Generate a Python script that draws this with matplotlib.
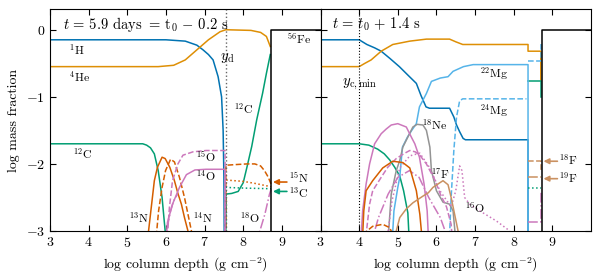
import numpy as np
import matplotlib
matplotlib.use("Agg")
from matplotlib import pyplot as plt

plt.rcParams.update({
    "font.family": "serif",
    "font.serif": ["cmr10"],
    "mathtext.fontset": "cm",
    "axes.formatter.use_mathtext": True,
    "font.size": 10,
})

# palette (seaborn colorblind)
BLUE, ORANGE, GREEN, RED = "#0173b2", "#de8f05", "#029e73", "#d55e00"
PINK, BROWN, GRAY, LBLUE = "#cc78bc", "#ca9161", "#949494", "#56b4e9"

# ---------------- left panel: t0 - 0.2 s ----------------
h1_x = [3, 6.0, 6.5, 6.8, 6.96, 7.1, 7.22, 7.35, 7.44, 7.48, 7.5, 7.51]
h1_y = [-0.15, -0.15, -0.17, -0.23, -0.3, -0.37, -0.45, -0.7, -1.0, -1.5, -2.2, -3.2]
he4_x = [3, 5.8, 6.2, 6.5, 6.8, 7.1, 7.4, 7.55, 8.2, 8.45, 8.6, 8.7]
he4_y = [-0.55, -0.55, -0.53, -0.45, -0.3, -0.15, -0.03, 0.0, -0.01, -0.04, -0.1, -0.25]
c12_x = [3, 5.4, 5.5, 5.6, 5.7, 5.8, 5.9, 5.98, 6.0]
c12_y = [-1.7, -1.7, -1.72, -1.76, -1.85, -2.1, -2.5, -3.0, -3.2]
c12_ash_x = [7.55, 7.55, 7.7, 7.87, 8.0, 8.1, 8.22, 8.35, 8.5, 8.6, 8.7]
c12_ash_y = [-3.2, -2.45, -2.44, -2.41, -2.28, -2.04, -1.74, -1.34, -0.95, -0.65, -0.37]
n13_x = [5.53, 5.55, 5.62, 5.7, 5.78, 5.9, 5.98, 6.1, 6.22, 6.31, 6.4, 6.48, 6.57, 6.62]
n13_y = [-3.2, -3.0, -2.65, -2.25, -2.05, -1.9, -1.92, -2.05, -2.25, -2.44, -2.6, -2.8, -3.0, -3.2]
n14_x = [5.73, 5.81, 5.9, 5.99, 6.12, 6.22, 6.35, 6.48, 6.57, 6.66, 6.7]
n14_y = [-3.2, -2.7, -2.35, -2.1, -1.93, -1.97, -2.2, -2.5, -2.75, -3.0, -3.2]
n14_ash_x = [7.55, 7.55, 7.8, 8.1, 8.3, 8.45, 8.55, 8.65, 8.72]
n14_ash_y = [-3.2, -2.02, -2.01, -2.0, -2.0, -2.03, -2.1, -2.2, -2.3]
n15_ash_x = [7.55, 7.55, 8.0, 8.3, 8.72]
n15_ash_y = [-3.2, -2.24, -2.26, -2.29, -2.34]
c13_ash_x = [7.55, 7.55, 8.0, 8.72]
c13_ash_y = [-3.2, -2.35, -2.36, -2.37]
o15_x = [6.02, 6.09, 6.17, 6.31, 6.44, 6.7, 7.04, 7.53, 7.53]
o15_y = [-3.2, -2.65, -2.25, -2.0, -1.87, -1.82, -1.8, -1.8, -3.2]
o14_x = [5.99, 6.04, 6.17, 6.35, 6.53, 6.75, 7.04, 7.53, 7.53]
o14_y = [-3.2, -2.87, -2.6, -2.35, -2.16, -2.09, -2.08, -2.08, -3.2]
o18_x = [6.0, 6.05, 6.12, 6.2, 6.3]
o18_y = [-3.2, -2.9, -2.7, -2.55, -2.45]
o18_ash_x = [8.4, 8.43, 8.56, 8.68, 8.72]
o18_ash_y = [-3.2, -3.0, -2.75, -2.45, -2.38]
fe56_x = [8.72, 8.72, 10.5]
fe56_y = [-3.5, 0.0, 0.0]
y_d = 7.55

# ---------------- right panel: t0 + 1.4 s ----------------
h1r_x = [3, 4.0, 4.2, 4.4, 4.57, 4.8, 5.04, 5.25, 5.48, 5.6, 5.73, 5.82, 6.34, 6.45, 6.52,
         6.6, 6.69, 6.75, 8.37, 8.37]
h1r_y = [-0.15, -0.15, -0.22, -0.27, -0.32, -0.43, -0.55, -0.67, -0.8, -0.98, -1.15, -1.17,
         -1.17, -1.3, -1.42, -1.52, -1.62, -1.64, -1.64, -3.5]
he4r_x = [3, 4.0, 4.15, 4.31, 4.57, 4.87, 5.31, 5.74, 6.34, 6.5, 6.68, 8.37, 8.37, 8.7, 8.7]
he4r_y = [-0.55, -0.55, -0.5, -0.45, -0.32, -0.22, -0.17, -0.14, -0.14, -0.18, -0.22, -0.22,
          -0.32, -0.32, -0.75]
c12r_x = [3, 4.0, 4.25, 4.48, 4.65, 4.79, 4.92, 5.05, 5.15, 5.26, 5.3]
c12r_y = [-1.7, -1.7, -1.72, -1.78, -1.85, -1.94, -2.05, -2.18, -2.4, -2.73, -3.2]
c12r_ash_x = [8.37, 8.7, 8.7]
c12r_ash_y = [-0.77, -0.77, -1.0]
mg22_x = [4.85, 4.9, 5.0, 5.05, 5.12, 5.25, 5.36, 5.48, 5.56, 5.74, 5.87, 6.1, 6.3, 6.43,
          6.7, 6.95, 8.37, 8.37]
mg22_y = [-3.2, -2.7, -2.35, -2.2, -1.75, -1.6, -1.5, -1.4, -1.15, -0.95, -0.77, -0.72, -0.7,
          -0.62, -0.55, -0.52, -0.52, -3.2]
mg24_x = [6.33, 6.38, 6.45, 6.52, 6.6, 6.68, 8.33]
mg24_y = [-3.2, -2.5, -1.8, -1.3, -1.06, -1.03, -1.03]
mg24_ash_x = [8.37, 8.7, 8.7]
mg24_ash_y = [-0.46, -0.46, -0.22]
ne18_x = [4.74, 4.8, 4.83, 4.96, 5.05, 5.13, 5.26, 5.39, 5.5, 5.65, 5.74, 5.83, 5.87, 6.0,
          6.17, 6.34, 6.43, 6.51]
ne18_y = [-3.2, -2.7, -2.45, -2.1, -1.95, -1.75, -1.6, -1.45, -1.41, -1.42, -1.5, -1.75,
          -2.1, -2.4, -2.57, -2.6, -2.7, -3.2]
o14r_x = [4.04, 4.09, 4.18, 4.27, 4.4, 4.57, 4.7, 4.83, 5.0, 5.22, 5.35, 5.44, 5.56, 5.68,
          5.76, 5.8]
o14r_y = [-3.2, -2.7, -2.3, -2.0, -1.7, -1.55, -1.48, -1.42, -1.4, -1.45, -1.6, -1.7, -1.9,
          -2.3, -2.7, -3.2]
o15r_x = [4.15, 4.27, 4.35, 4.57, 4.74, 4.96, 5.15, 5.31, 5.45, 5.57, 5.74, 5.96, 6.1, 6.26,
          6.38, 6.42]
o15r_y = [-3.2, -2.6, -2.4, -2.2, -2.05, -1.92, -1.85, -1.8, -1.82, -1.87, -2.0, -2.24, -2.45,
          -2.64, -2.9, -3.2]
o16r_x = [4.75, 4.85, 5.05, 5.31, 5.57, 5.83, 6.09, 6.38, 6.5, 6.6, 6.66, 6.73, 6.86, 7.12,
          7.55, 7.9]
o16r_y = [-3.0, -2.55, -2.06, -1.88, -1.84, -2.06, -2.4, -2.64, -2.4, -2.03, -2.1, -2.5, -2.6,
          -2.7, -2.85, -3.0]
o18r_x = [4.3, 4.5, 4.75, 5.0, 5.3, 5.55, 5.8, 6.1, 6.35]
o18r_y = [-3.2, -2.8, -2.45, -2.2, -2.1, -2.2, -2.5, -2.8, -3.2]
o18r_ash_x = [8.37, 8.7, 8.7]
o18r_ash_y = [-2.87, -2.87, -2.4]
n13r_x = [4.08, 4.12, 4.18, 4.35, 4.61, 4.87, 5.13, 5.31, 5.48, 5.57, 5.61, 5.63]
n13r_y = [-3.2, -2.7, -2.4, -2.25, -2.06, -1.96, -1.98, -2.06, -2.4, -2.75, -3.0, -3.2]
n14r_x = [4.15, 4.2, 4.35, 4.61, 4.79, 4.83, 4.86]
n14r_y = [-3.2, -3.0, -2.93, -2.9, -2.95, -3.0, -3.2]
f17r_x = [4.93, 4.96, 5.05, 5.22, 5.39, 5.65, 5.79, 5.91, 6.09, 6.17, 6.3, 6.38, 6.47, 6.56, 6.6]
f17r_y = [-3.2, -3.0, -2.8, -2.67, -2.58, -2.48, -2.43, -2.35, -2.28, -2.25, -2.31, -2.5,
          -2.75, -3.0, -3.2]
f18r_ash_x = [8.37, 8.7, 8.7]
f18r_ash_y = [-1.96, -1.96, -2.12]
f19r_ash_x = [8.37, 8.7]
f19r_ash_y = [-2.2, -2.2]
c13r_ash_x = [8.37, 8.7]
c13r_ash_y = [-2.36, -2.36]
y_c_min = 4.0

fig = plt.figure(figsize=(6.01, 2.79), dpi=100)
axl = fig.add_axes([0.0832, 0.172, 0.4501, 0.796])
axr = fig.add_axes([0.5333, 0.172, 0.4501, 0.796], sharey=axl)
lw = 1.1

# left
axl.plot(h1_x, h1_y, color=BLUE, lw=lw)
axl.plot(he4_x, he4_y, color=ORANGE, lw=lw)
axl.plot(c12_x, c12_y, color=GREEN, lw=lw)
axl.plot(c12_ash_x, c12_ash_y, color=GREEN, lw=lw)
axl.plot(n13_x, n13_y, color=RED, lw=lw)
axl.plot(n14_x, n14_y, color=RED, lw=lw, ls="--")
axl.plot(n14_ash_x, n14_ash_y, color=RED, lw=lw, ls="--")
axl.plot(n15_ash_x, n15_ash_y, color=RED, lw=lw, ls=":")
axl.plot(c13_ash_x, c13_ash_y, color=GREEN, lw=lw, ls=":")
axl.plot(o15_x, o15_y, color=PINK, lw=lw, ls="--")
axl.plot(o14_x, o14_y, color=PINK, lw=lw)
axl.plot(o18_x, o18_y, color=PINK, lw=lw, ls="-.")
axl.plot(o18_ash_x, o18_ash_y, color=PINK, lw=lw, ls="-.")
axl.plot(fe56_x, fe56_y, color="k", lw=lw)
axl.axvline(y_d, color="0.4", lw=1.0, ls=":")

lab = dict(fontsize=8.5)
axl.text(3.33, 0.08, r"$t\, =\, 5.9$ days $=\, \mathrm{t_0}\, -\, 0.2$ s", fontsize=10.5,
         va="center")
axl.text(3.5, -0.29, r"$^{1}$H", va="center", **lab)
axl.text(3.5, -0.7, r"$^{4}$He", va="center", **lab)
axl.text(7.58, -0.42, r"$y_{\rm d}$", ha="center", va="center", fontsize=10.5)
axl.text(8.0, -1.18, r"$^{12}$C", ha="center", va="center", **lab)
axl.text(9.45, -0.15, r"$^{56}$Fe", ha="center", va="center", **lab)
axl.text(3.85, -1.84, r"$^{12}$C", ha="center", va="center", **lab)
axl.text(7.05, -1.9, r"$^{15}$O", ha="center", va="center", **lab)
axl.text(7.05, -2.18, r"$^{14}$O", ha="center", va="center", **lab)
axl.text(5.3, -2.8, r"$^{13}$N", ha="center", va="center", **lab)
axl.text(6.95, -2.8, r"$^{14}$N", ha="center", va="center", **lab)
axl.text(8.17, -2.8, r"$^{18}$O", ha="center", va="center", **lab)
for yy, ty, name, col in [(-2.27, -2.22, r"$^{15}$N", RED), (-2.41, -2.43, r"$^{13}$C", GREEN)]:
    axl.annotate("", xy=(8.77, yy), xytext=(9.13, yy),
                 arrowprops=dict(arrowstyle="-|>", color=col, lw=1.2, mutation_scale=8,
                                 shrinkA=0, shrinkB=0))
    axl.text(9.18, ty, name, va="center", **lab)

# right
axr.plot(h1r_x, h1r_y, color=BLUE, lw=lw)
axr.plot(he4r_x, he4r_y, color=ORANGE, lw=lw)
axr.plot(c12r_x, c12r_y, color=GREEN, lw=lw)
axr.plot(c12r_ash_x, c12r_ash_y, color=GREEN, lw=lw)
axr.plot(mg22_x, mg22_y, color=LBLUE, lw=lw)
axr.plot(mg24_x, mg24_y, color=LBLUE, lw=lw, ls="--")
axr.plot(mg24_ash_x, mg24_ash_y, color=LBLUE, lw=lw, ls="--")
axr.plot(ne18_x, ne18_y, color=GRAY, lw=lw)
axr.plot(o14r_x, o14r_y, color=PINK, lw=lw)
axr.plot(o15r_x, o15r_y, color=PINK, lw=lw, ls="--")
axr.plot(o16r_x, o16r_y, color=PINK, lw=lw, ls=":")
axr.plot(o18r_x, o18r_y, color=PINK, lw=lw, ls="-.")
axr.plot(o18r_ash_x, o18r_ash_y, color=PINK, lw=lw, ls="-.")
axr.plot(n13r_x, n13r_y, color=RED, lw=lw)
axr.plot(n14r_x, n14r_y, color=RED, lw=lw, ls="--")
axr.plot(f17r_x, f17r_y, color=BROWN, lw=lw)
axr.plot(f18r_ash_x, f18r_ash_y, color=BROWN, lw=lw, ls="--")
axr.plot(f19r_ash_x, f19r_ash_y, color=BROWN, lw=lw, ls="-.")
axr.plot(c13r_ash_x, c13r_ash_y, color=GREEN, lw=lw, ls=":")
axr.plot(fe56_x, fe56_y, color="k", lw=lw)
axr.axvline(y_c_min, color="k", lw=0.8, ls=":")

axr.text(3.3, 0.08, r"$t\, =\, t_0\, +\, 1.4$ s", fontsize=10.5, va="center")
axr.text(4.0, -0.82, r"$y_{\rm c,min}$", ha="center", va="center", fontsize=10.5)
axr.text(7.5, -0.65, r"$^{22}$Mg", ha="center", va="center", **lab)
axr.text(7.5, -1.2, r"$^{24}$Mg", ha="center", va="center", **lab)
axr.text(5.95, -1.42, r"$^{18}$Ne", ha="center", va="center", **lab)
axr.text(6.1, -2.14, r"$^{17}$F", ha="center", va="center", **lab)
axr.text(7.0, -2.65, r"$^{16}$O", ha="center", va="center", **lab)
for yy, ty, name in [(-1.96, -1.93, r"$^{18}$F"), (-2.22, -2.2, r"$^{19}$F")]:
    axr.annotate("", xy=(8.77, yy), xytext=(9.13, yy),
                 arrowprops=dict(arrowstyle="-|>", color=BROWN, lw=1.2, mutation_scale=8,
                                 shrinkA=0, shrinkB=0))
    axr.text(9.18, ty, name, va="center", **lab)

for ax in (axl, axr):
    ax.set_xlim(3, 10)
    ax.set_ylim(-3, 0.31)
    ax.set_xticks(range(3, 10))
    ax.set_yticks([0, -1, -2, -3])
    ax.tick_params(direction="in", top=True, right=True, length=4, width=0.8, labelsize=10)
    ax.set_xlabel(r"log column depth (g cm$^{-2}$)", fontsize=10)
axr.tick_params(labelleft=False)
axl.set_ylabel("log mass fraction", fontsize=10)

fig.savefig("out.png", dpi=100)
